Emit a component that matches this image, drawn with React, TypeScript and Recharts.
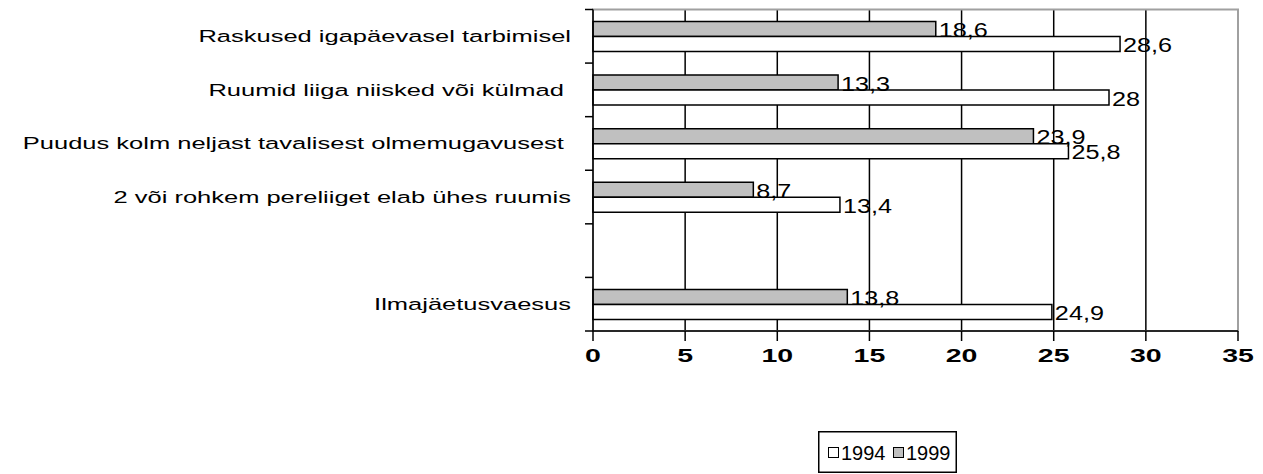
import { BarChart, Bar, XAxis, YAxis, CartesianGrid, LabelList, Legend, ReferenceArea } from 'recharts'

const categories = [
  'Raskused igapäevasel tarbimisel',
  'Ruumid liiga niisked või külmad ',
  'Puudus kolm neljast tavalisest olmemugavusest ',
  '2 või rohkem pereliiget elab ühes ruumis',
  '',
  'Ilmajäetusvaesus',
]
const values1994 = [28.6, 28, 25.8, 13.4, null, 24.9]
const values1999 = [18.6, 13.3, 23.9, 8.7, null, 13.8]
const xTicks = [0, 5, 10, 15, 20, 25, 30, 35]

const data = categories.map((name, i) => ({ name, y1994: values1994[i], y1999: values1999[i] }))

const W = 1263
const H = 474
const PLOT_LEFT = 593
const PLOT_TOP = 9.5
const PLOT_RIGHT = 1238
const PLOT_BOTTOM = 331
const LEGEND_H = 42
const BAND = (PLOT_BOTTOM - PLOT_TOP) / categories.length
const FONT = '"Liberation Sans", Arial, sans-serif'

const fmt = (v: any) => (v == null ? '' : String(v).replace('.', ','))

function CatTick(props: any) {
  const { y, payload, index } = props
  const label = payload?.value ?? ''
  const last = index === categories.length - 1
  return (
    <g>
      <line x1={PLOT_LEFT - 8} x2={PLOT_LEFT} y1={y - BAND / 2} y2={y - BAND / 2} stroke="#000" strokeWidth={1.5} />
      {last && <line x1={PLOT_LEFT - 8} x2={PLOT_LEFT} y1={y + BAND / 2} y2={y + BAND / 2} stroke="#000" strokeWidth={1.5} />}
      <g transform={`translate(${PLOT_LEFT - 22},${y})`}>
        <text transform="scale(1.5,1)" textAnchor="end" dominantBaseline="central" fontFamily={FONT} fontSize={17} fill="#000" style={{ whiteSpace: 'pre' }}>
          {label}
        </text>
      </g>
    </g>
  )
}

function NumTick(props: any) {
  const { x, payload } = props
  return (
    <g transform={`translate(${x},${355})`}>
      <text transform="scale(1.5,1)" textAnchor="middle" dominantBaseline="central" fontFamily={FONT} fontWeight="bold" fontSize={19} fill="#000">
        {payload.value}
      </text>
    </g>
  )
}

function ValueLabel(props: any) {
  const { x, y, width, height, value } = props
  if (value == null) return null
  return (
    <g transform={`translate(${x + width + 3},${y + height / 2 + 1})`}>
      <text transform="scale(1.2,1)" dominantBaseline="central" fontFamily={FONT} fontSize={21} fill="#000">
        {fmt(value)}
      </text>
    </g>
  )
}

function LegendBox(props: any) {
  const items = [...(props.payload || [])].sort((a: any, b: any) => String(a.value).localeCompare(String(b.value)))
  return (
    <svg width={139} height={LEGEND_H} style={{ display: 'block' }}>
      <rect x={0.75} y={0.75} width={137.5} height={LEGEND_H - 1.5} fill="#fff" stroke="#000" strokeWidth={1.5} />
      {items.map((it: any, i: number) => (
        <g key={i} transform={`translate(${10 + i * 65},0)`}>
          <rect x={0.5} y={16.5} width={10} height={10} fill={it.payload?.fill ?? it.color} stroke="#000" strokeWidth={1} />
          <text x={13} y={22} dominantBaseline="central" fontFamily={FONT} fontSize={20} fill="#000">
            {it.value}
          </text>
        </g>
      ))}
    </svg>
  )
}

export default function App() {
  return (
    <div style={{ position: 'absolute', left: 0, top: 0, width: W, height: H, background: '#fff' }}>
      <BarChart
        width={W}
        height={H}
        data={data}
        layout="vertical"
        margin={{ top: PLOT_TOP, right: W - PLOT_RIGHT, left: 0, bottom: 0 }}
        barSize={15}
        barGap={0}
      >
        <CartesianGrid horizontal={false} stroke="#000" strokeWidth={1.5} />
        <ReferenceArea x1={0} x2={35} fill="none" stroke="#a0a0a0" strokeWidth={2} />
        <XAxis
          type="number"
          domain={[0, 35]}
          ticks={xTicks}
          interval={0}
          tickSize={10}
          axisLine={{ stroke: '#000', strokeWidth: 1.5 }}
          tickLine={{ stroke: '#000', strokeWidth: 1.5 }}
          tick={(p: any) => <NumTick {...p} />}
          height={H - PLOT_BOTTOM - LEGEND_H}
        />
        <YAxis
          type="category"
          dataKey="name"
          width={PLOT_LEFT}
          interval={0}
          tickLine={false}
          axisLine={{ stroke: '#000', strokeWidth: 1.5 }}
          tick={(p: any) => <CatTick {...p} />}
        />
        <Legend
          content={(p: any) => <LegendBox {...p} />}
          wrapperStyle={{ left: 818, top: 431, width: 139, height: LEGEND_H }}
        />
        <Bar dataKey="y1999" name="1999" fill="#c0c0c0" stroke="#000" strokeWidth={1.5} isAnimationActive={false}>
          <LabelList dataKey="y1999" content={(p: any) => <ValueLabel {...p} />} />
        </Bar>
        <Bar dataKey="y1994" name="1994" fill="#ffffff" stroke="#000" strokeWidth={1.5} isAnimationActive={false}>
          <LabelList dataKey="y1994" content={(p: any) => <ValueLabel {...p} />} />
        </Bar>
      </BarChart>
    </div>
  )
}
